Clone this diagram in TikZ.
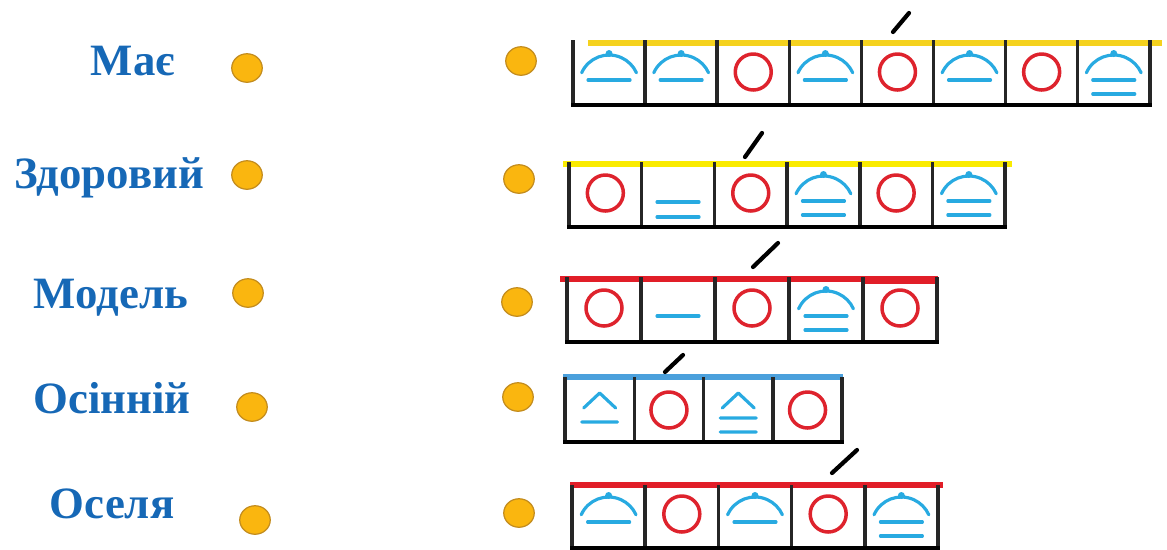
\documentclass[tikz,border=0pt]{standalone}
\usepackage{fontspec}
\setmainfont{Liberation Serif}
\usetikzlibrary{shapes.geometric}
\definecolor{wordblue}{RGB}{22,104,182}
\definecolor{symblue}{RGB}{40,170,225}
\definecolor{vowelred}{RGB}{222,35,45}
\definecolor{lineyellow}{RGB}{245,210,30}
\definecolor{brightyellow}{RGB}{250,235,0}
\definecolor{linered}{RGB}{225,30,40}
\definecolor{lineblue}{RGB}{75,160,220}
\definecolor{dotfill}{RGB}{250,182,15}
\definecolor{dotedge}{RGB}{195,140,30}
\begin{document}
\begin{tikzpicture}[x=0.02cm, y=-0.02cm, line cap=round, line join=round,
    word/.style={anchor=base, text=wordblue, font=\fontsize{25.5}{30}\selectfont\bfseries},
    dot/.style={ellipse, draw=dotedge, line width=0.7pt, fill=dotfill, minimum width=0.61cm, minimum height=0.57cm, inner sep=0pt},
    wall/.style={line width=2pt, draw=black!85, line cap=butt},
    floor/.style={line width=2.6pt, line cap=butt},
    topline/.style={line width=3.2pt, line cap=butt},
    stress/.style={line width=2.4pt},
    sound/.style={draw=symblue, line width=1.8pt},
    pics/vowel/.style={code={\draw[vowelred, line width=2pt] (0,29) circle[radius=18];}},
    pics/hat/.style={code={\draw[sound] (-27.4,29.8) arc[start angle=204, end angle=336, radius=30];
      \fill[symblue] (0,10.5) circle[radius=3.5];}},
    pics/hatone/.style={code={\pic {hat}; \draw[sound] (-21,37) -- (21,37);}},
    pics/hattwo/.style={code={\pic {hat}; \draw[sound] (-21,37) -- (21,37) (-21,51) -- (21,51);}},
    pics/lineone/.style={code={\draw[sound] (-21,37) -- (21,37);}},
    pics/linetwo/.style={code={\draw[sound] (-21,38) -- (21,38) (-21,53) -- (21,53);}},
    pics/capone/.style={code={\draw[sound] (-16,27) -- (0,12) -- (16,27) (-18,41) -- (18,41);}},
    pics/captwo/.style={code={\draw[sound] (-16,27) -- (0,12) -- (16,27) (-18,37) -- (18,37) (-18,51) -- (18,51);}}]
  \useasboundingbox (0,0) rectangle (1167,549);

  % words and dots
  \node[word] (w1) at (133,75) {Має};
  \node[word] (w2) at (109,188) {Здоровий};
  \node[word] (w3) at (111,308) {Модель};
  \node[word] (w4) at (112,413) {Осінній};
  \node[word] (w5) at (112,518) {Оселя};
  \node[dot] (l1) at (247,68) {};
  \node[dot] (l2) at (247,175) {};
  \node[dot] (l3) at (248,293) {};
  \node[dot] (l4) at (252,407) {};
  \node[dot] (l5) at (255,520) {};
  \node[dot] (r1) at (521,61) {};
  \node[dot] (r2) at (519,179) {};
  \node[dot] (r3) at (517,302) {};
  \node[dot] (r4) at (518,397) {};
  \node[dot] (r5) at (519,513) {};

  % Має
  \draw[topline, lineyellow] (588,43) -- (1162,43);
  \foreach \s [count=\i from 0] in {hatone,hatone,vowel,hatone,vowel,hatone,vowel,hattwo}
    \pic at (573+72.1*\i+36.05,43) {\s};
  \foreach \i in {0,...,8}
    \draw[wall] (573+72.1*\i,40) -- (573+72.1*\i,105);
  \draw[floor] (571,105) -- (1152,105);
  \draw[stress] (893,32) -- (909,13);

  % Здоровий
  \draw[topline, brightyellow] (563,164) -- (1012,164);
  \foreach \s [count=\i from 0] in {vowel,linetwo,vowel,hattwo,vowel,hattwo}
    \pic at (569+72.7*\i+36.35,164) {\s};
  \foreach \i in {0,...,6}
    \draw[wall] (569+72.7*\i,162) -- (569+72.7*\i,227);
  \draw[floor] (567,227) -- (1007,227);
  \draw[stress] (745,157) -- (762,133);

  % Модель
  \draw[topline, linered] (560,279) -- (938,279);
  \draw[line width=4.4pt, linered, line cap=butt] (863,280) -- (938,280);
  \foreach \s [count=\i from 0] in {vowel,lineone,vowel,hattwo,vowel}
    \pic at (567+74*\i+37,279) {\s};
  \foreach \i in {0,...,5}
    \draw[wall] (567+74*\i,277) -- (567+74*\i,342);
  \draw[floor] (565,342) -- (939,342);
  \draw[stress] (753,267) -- (778,243);

  % Осінній
  \draw[topline, lineblue] (563,377) -- (843,377);
  \foreach \s [count=\i from 0] in {capone,vowel,captwo,vowel}
    \pic at (565+69.3*\i+34.65,381) {\s};
  \foreach \i in {0,...,4}
    \draw[wall] (565+69.3*\i,377) -- (565+69.3*\i,442);
  \draw[floor] (563,442) -- (844,442);
  \draw[stress] (665,372) -- (683,355);

  % Оселя
  \draw[topline, linered] (570,485) -- (943,485);
  \foreach \s [count=\i from 0] in {hatone,vowel,hatone,vowel,hattwo}
    \pic at (572+73.2*\i+36.6,485) {\s};
  \foreach \i in {0,...,5}
    \draw[wall] (572+73.2*\i,485) -- (572+73.2*\i,549);
  \draw[floor] (570,548) -- (940,548);
  \draw[stress] (832,473) -- (857,450);
\end{tikzpicture}
\end{document}
